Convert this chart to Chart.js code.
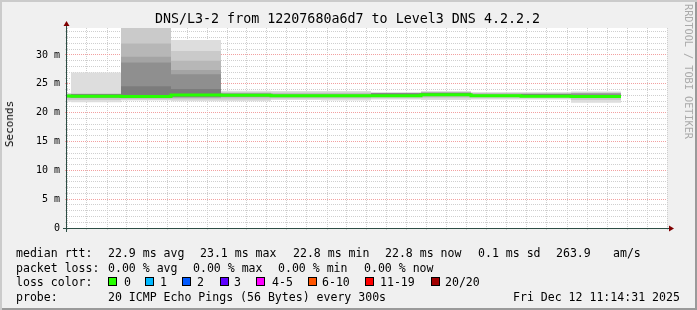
<!DOCTYPE html>
<html>
<head>
<meta charset="utf-8">
<script src="https://cdn.jsdelivr.net/npm/chart.js@4.4.1/dist/chart.umd.min.js"></script>
<style>
  html, body { margin: 0; padding: 0; background: #f0f0f0; }
  #frame { position: relative; width: 697px; height: 310px; background: #f0f0f0; overflow: hidden;
           box-shadow: inset 2px 2px 0 #cbcbcb, inset -2px -2px 0 #9a9a9a; }
  #chart { position: absolute; left: 0; top: 0; }
  .t { position: absolute; font-family: "DejaVu Sans Mono", monospace; color: #000; white-space: pre; }
  .lg { font-size: 11.55px; line-height: 14px; }
  .box { position: absolute; width: 9px; height: 9px; box-sizing: border-box; border: 1px solid #000; }
</style>
</head>
<body>
<div id="frame">
  <canvas id="chart" width="697" height="310"></canvas>
</div>
<script>
// ---------------- data ----------------
const bucketEnd = ['10:15','10:20','10:25','10:30','10:35','10:40','10:45','10:50','10:55','11:00','11:05','11:10'];
const medianRtt = [22.9, 22.85, 22.8, 23.05, 23.0, 22.95, 22.95, 22.95, 23.1, 22.95, 22.85, 22.8];
// smoke layers (outermost first) : [low, high] in ms per bucket
const smoke0 = [[21.9,23.4],[21.8,26.95],[22.1,36],[22.0,32.6],[22.0,23.8],[22.2,23.75],[22.1,23.75],[22.3,23.55],[22.2,23.75],[22.3,23.55],[22.3,23.55],[21.7,23.65]];
const smoke1 = [[22.2,23.3],[22.2,23.35],[22.3,35],[22.3,30.7],[22.3,23.6],[22.4,23.5],[22.4,23.5],[22.5,23.45],[22.5,23.6],[22.5,23.45],[22.5,23.45],[22.2,23.5]];
const smoke2 = [[22.5,23.2],[22.5,23.25],[22.45,32.0],[22.5,29.0],[22.6,23.4],[22.6,23.3],[22.6,23.3],[22.7,23.35],[22.8,23.5],[22.7,23.3],[22.7,23.35],[22.5,23.4]];
const smoke3 = [[22.7,23.15],[22.6,23.2],[22.55,29.7],[22.6,27.4],[22.7,23.35],[22.7,23.3],[22.7,23.3],[22.75,23.35],[22.85,23.45],[22.75,23.3],[22.7,23.25],[22.6,23.35]];
const smoke4 = [null,[22.65,23.15],[22.65,28.7],[22.7,26.65],[22.8,23.3],null,null,[22.8,23.35],[22.9,23.45],null,[22.75,23.25],[22.65,23.3]];
const smoke5 = [null,[22.7,23.2],[22.7,24.6],[22.8,24.1],null,null,null,[22.85,23.32],[22.95,23.42],null,[22.78,23.2],null];
const xTickLabels = ['10:20','10:30','10:40','10:50','11:00','11:10'];
const yTickLabels = [0, 5, 10, 15, 20, 25, 30];
const viewStart = '10:14:36', viewEnd = '11:14:36';
const yMax = 34.68;

const statsRtt  = ['22.9 ms avg','23.1 ms max','22.8 ms min','22.8 ms now','0.1 ms sd','263.9','am/s'];
const statsLoss = ['0.00 % avg','0.00 % max','0.00 % min','0.00 % now'];
const lossLabels = ['0','1','2','3','4-5','6-10','11-19','20/20'];
const lossColors = ['#26ff00','#00b8ff','#0059ff','#5e00ff','#ff00ff','#ff5500','#ff0000','#a10000'];
const probeText = '20 ICMP Echo Pings (56 Bytes) every 300s';
const dateText = 'Fri Dec 12 11:14:31 2025';
const titleText = 'DNS/L3-2 from 12207680a6d7 to Level3 DNS 4.2.2.2';

// ---------------- styles ----------------
const smokeColors = ['#dddddd','#cacaca','#b7b7b7','#a4a4a4','#8f8f8f','#7c7c7c'];
const minorGrid = '#cfcfcf', majorGrid = '#f2a0a0';

// ---------------- helpers ----------------
const toMin = s => { const p = s.split(':').map(Number); return (p[0]-10)*60 + p[1] + (p[2]||0)/60; };
const fmt = v => { const t = Math.round(v); const h = 10 + Math.floor(t/60), m = t % 60; return h + ':' + String(m).padStart(2,'0'); };
const ends = bucketEnd.map(toMin);
const step = ends[1] - ends[0];
const xMin = toMin(viewStart), xMax = toMin(viewEnd);
const xMajor = xTickLabels.map(toMin);

const layers = [smoke0, smoke1, smoke2, smoke3, smoke4, smoke5];
const datasets = layers.map((layer, k) => ({
  type: 'bar', xAxisID: 'xb', yAxisID: 'y',
  data: layer.map((v, i) => v ? {x: ends[i] - step/2, y: v} : null).filter(Boolean),
  backgroundColor: smokeColors[k], borderWidth: 0, grouped: false,
  barPercentage: 1, categoryPercentage: 1, inflateAmount: 0, order: 20 - k
}));
const medPts = medianRtt.map((v, i) => ({x: ends[i] - step, y: v}));
medPts.push({x: ends[ends.length-1], y: medianRtt[medianRtt.length-1]});
datasets.push({
  type: 'line', xAxisID: 'x', yAxisID: 'y', data: medPts, borderColor: lossColors[0],
  borderWidth: 3, pointRadius: 0, stepped: true, fill: false, clip: 0, order: 0,
  borderCapStyle: 'butt', borderJoinStyle: 'miter'
});

const isMajorX = v => xMajor.some(m => Math.abs(m - v) < 1e-6);
const isMajorY = v => yTickLabels.some(m => Math.abs(m - v) < 1e-6);

const frameBg = {
  id: 'frameBg',
  beforeDraw(chart) {
    const {ctx, chartArea: a} = chart;
    ctx.save(); ctx.fillStyle = '#ffffff';
    ctx.fillRect(a.left, a.top, a.right - a.left, a.bottom - a.top);
    ctx.restore();
  },
  afterDraw(chart) {
    const {ctx, chartArea: a} = chart;
    ctx.save();
    ctx.strokeStyle = '#2c4d43'; ctx.lineWidth = 1;
    ctx.beginPath();
    ctx.moveTo(a.left - 4, a.bottom + 0.5); ctx.lineTo(a.right + 4, a.bottom + 0.5);
    ctx.moveTo(a.left - 0.5, a.bottom + 4); ctx.lineTo(a.left - 0.5, a.top - 4);
    ctx.stroke();
    ctx.fillStyle = '#7f0000';
    ctx.beginPath();
    ctx.moveTo(a.right + 2, a.bottom - 2.5); ctx.lineTo(a.right + 2, a.bottom + 3.5); ctx.lineTo(a.right + 7, a.bottom + 0.5);
    ctx.closePath(); ctx.fill();
    ctx.beginPath();
    ctx.moveTo(a.left - 3.5, a.top - 2); ctx.lineTo(a.left + 2.5, a.top - 2); ctx.lineTo(a.left - 0.5, a.top - 7);
    ctx.closePath(); ctx.fill();
    ctx.restore();
  }
};

const tickFont = {family: 'DejaVu Sans Mono', size: 10};
new Chart(document.getElementById('chart'), {
  type: 'line',
  data: { datasets },
  options: {
    responsive: false, animation: false, events: [],
    layout: { padding: { left: 0, right: 30, top: 28, bottom: 62 } },
    plugins: { legend: { display: false }, tooltip: { enabled: false }, title: { display: false } },
    scales: {
      x: {
        type: 'linear', position: 'bottom', min: xMin, max: xMax, offset: false, bounds: 'data',
        grid: { offset: false, lineWidth: 1, tickLength: 2, drawTicks: true,
                color: c => isMajorX(c.tick.value) ? majorGrid : minorGrid,
                tickColor: c => isMajorX(c.tick.value) ? majorGrid : minorGrid },
        border: { display: false, dash: [1, 1] },
        ticks: { stepSize: 2, includeBounds: false, autoSkip: false, maxRotation: 0, minRotation: 0,
                 padding: 2, color: '#000', font: tickFont,
                 callback: v => isMajorX(v) ? fmt(v) : '' },
        afterFit: s => { s.height = 20; }
      },
      xb: {
        type: 'linear', display: false, min: xMin, max: xMax, offset: false, bounds: 'data',
        grid: { offset: false }, ticks: { stepSize: step, includeBounds: false }
      },
      y: {
        type: 'linear', position: 'left', min: 0, max: yMax, bounds: 'data',
        grid: { lineWidth: 1, tickLength: 2, drawTicks: true,
                color: c => c.tick.value === 0 ? 'rgba(0,0,0,0)' : (isMajorY(c.tick.value) ? majorGrid : minorGrid),
                tickColor: c => isMajorY(c.tick.value) ? majorGrid : minorGrid },
        border: { display: false, dash: [1, 1] },
        ticks: { stepSize: 1, includeBounds: false, autoSkip: false, padding: 5, color: '#000', font: tickFont,
                 callback: v => isMajorY(v) ? (v === 0 ? '0' : v + ' m') : '' },
        afterFit: s => { s.width = 67; }
      }
    }
  },
  plugins: [frameBg]
});

// ---------------- texts ----------------
const frame = document.getElementById('frame');
function addText(txt, x, y, cls, extra) {
  const d = document.createElement('div');
  d.className = 't ' + (cls || '');
  d.textContent = txt;
  d.style.left = x + 'px'; d.style.top = y + 'px';
  if (extra) Object.assign(d.style, extra);
  frame.appendChild(d);
  return d;
}
addText(titleText, 0, 11, '', { width: '695px', textAlign: 'center', fontSize: '13.33px', lineHeight: '16px' });
addText('Seconds', 10, 124, '', { fontSize: '11px', lineHeight: '12px', transform: 'translate(-50%,-50%) rotate(-90deg)' });
addText('RRDTOOL / TOBI OETIKER', 683, 4, '', { fontSize: '10.2px', lineHeight: '10px', color: '#aaaaaa', writingMode: 'vertical-rl' });

const rowY = [246, 261, 275, 290];
const rttX = [108, 200, 293, 385, 478, 556, 613];
const lossX = [108, 193, 278, 364];
const boxX = [108, 145, 182, 220, 256, 308, 365, 431];
const lblX = [124, 160, 197, 234, 272, 322, 380, 445];

addText('median rtt:', 16, rowY[0], 'lg');
statsRtt.forEach((s, i) => addText(s, rttX[i], rowY[0], 'lg'));
addText('packet loss:', 16, rowY[1], 'lg');
statsLoss.forEach((s, i) => addText(s, lossX[i], rowY[1], 'lg'));
addText('loss color:', 16, rowY[2], 'lg');
lossLabels.forEach((s, i) => {
  const b = document.createElement('div');
  b.className = 'box'; b.style.left = boxX[i] + 'px'; b.style.top = (rowY[2] + 2) + 'px';
  b.style.background = lossColors[i];
  frame.appendChild(b);
  addText(s, lblX[i], rowY[2], 'lg');
});
addText('probe:', 16, rowY[3], 'lg');
addText(probeText, 108, rowY[3], 'lg');
addText(dateText, 513, rowY[3], 'lg');
</script>
</body>
</html>
